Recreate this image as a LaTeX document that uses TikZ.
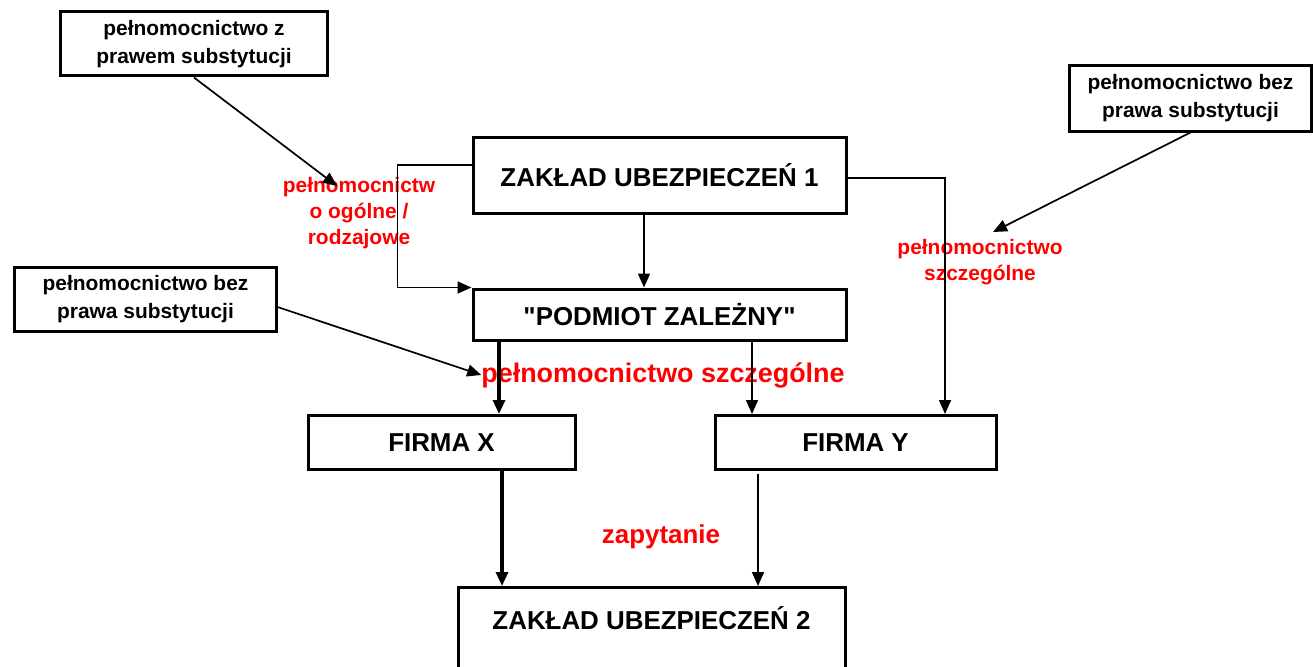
\documentclass[tikz,border=0pt]{standalone}
\usepackage{fontspec}
\setmainfont{Liberation Sans}
\usepackage{tikz}
\usetikzlibrary{positioning,arrows.meta}

\tikzset{
  box/.style={draw, line width=3bp, inner sep=0pt, font=\fontsize{26}{30}\selectfont\bfseries},
  smallbox/.style={draw, line width=3bp, inner sep=0pt, align=center, font=\fontsize{21}{28}\selectfont\bfseries},
  note/.style={text=red, inner sep=0pt, align=center, font=\fontsize{21}{26.5}\selectfont\bfseries},
  link/.style={-{Triangle[length=14bp,width=12bp]}, line width=1.7bp},
  heavylink/.style={link, line width=3.3bp}
}

\begin{document}
\begin{tikzpicture}[x=1bp, y=-1bp]
    \useasboundingbox (0,0) rectangle (1313,666);
    \clip (0,0) rectangle (1313,666);

    \node [box, minimum width=373bp, minimum height=75bp] (zu1) at (659.5,175.5) {ZAKŁAD UBEZPIECZEŃ 1};
    \node [box, minimum width=373bp, minimum height=51bp, below=73bp of zu1] (pz) {\textquotedbl PODMIOT ZALEŻNY\textquotedbl};
    \node [box, minimum width=267bp, minimum height=54bp, below=72.5bp of pz, xshift=-218bp] (firmax) {FIRMA X};
    \node [box, minimum width=281bp, minimum height=54bp, right=137bp of firmax] (firmay) {FIRMA Y};
    \node [box, minimum width=387bp, text height=42bp, text depth=60bp, below=115bp of firmax, xshift=210bp] (zu2) {ZAKŁAD UBEZPIECZEŃ 2};

    \node [smallbox, minimum width=266bp, minimum height=64bp] (subst) at (194,44) {pełnomocnictwo z\\prawem substytucji};
    \node [smallbox, minimum width=261bp, minimum height=64bp] (nosubL) at (145.5,299) {pełnomocnictwo bez\\prawa substytucji};
    \node [smallbox, minimum width=242bp, minimum height=65bp] (nosubR) at (1190.5,98.5) {pełnomocnictwo bez\\prawa substytucji};

    \node [note] (general) at (359,213) {pełnomocnictw\\o ogólne /\\rodzajowe};
    \node [note, font=\fontsize{27}{30}\selectfont\bfseries] (specialC) at (663,375) {pełnomocnictwo szczególne};
    \node [note] (specialR) at (980,262) {pełnomocnictwo\\szczególne};
    \node [note, font=\fontsize{26}{30}\selectfont\bfseries] (query) at (661,537) {zapytanie};

    \coordinate (tipA) at (337,186);
    \coordinate (tipC) at (993,232);

    \draw [link] ([xshift=-15.5bp]zu1.south) -- ([xshift=-15.5bp]pz.north);
    \draw [link] ([yshift=10.5bp]zu1.west) -- ++(-74,0) |- (pz.north west);
    \draw [link] ([yshift=-2.5bp]zu1.east) -| ([xshift=89.5bp]firmay.north);
    \draw [heavylink] ([xshift=-160.5bp]pz.south) -- ([xshift=57.5bp]firmax.north);
    \draw [link] ([xshift=92.5bp]pz.south) -- ([xshift=-103.5bp]firmay.north);
    \draw [heavylink] ([xshift=60.5bp]firmax.south) -- ([xshift=-149.5bp]zu2.north);
    \draw [link] ([xshift=-97.5bp,yshift=-3bp]firmay.south) -- ([xshift=106.5bp]zu2.north);

    \draw [link] (subst.south) -- (tipA);
    \draw [link] ([yshift=-8bp]nosubL.east) -- (specialC.west);
    \draw [link] (nosubR.south) -- (tipC);
\end{tikzpicture}
\end{document}
